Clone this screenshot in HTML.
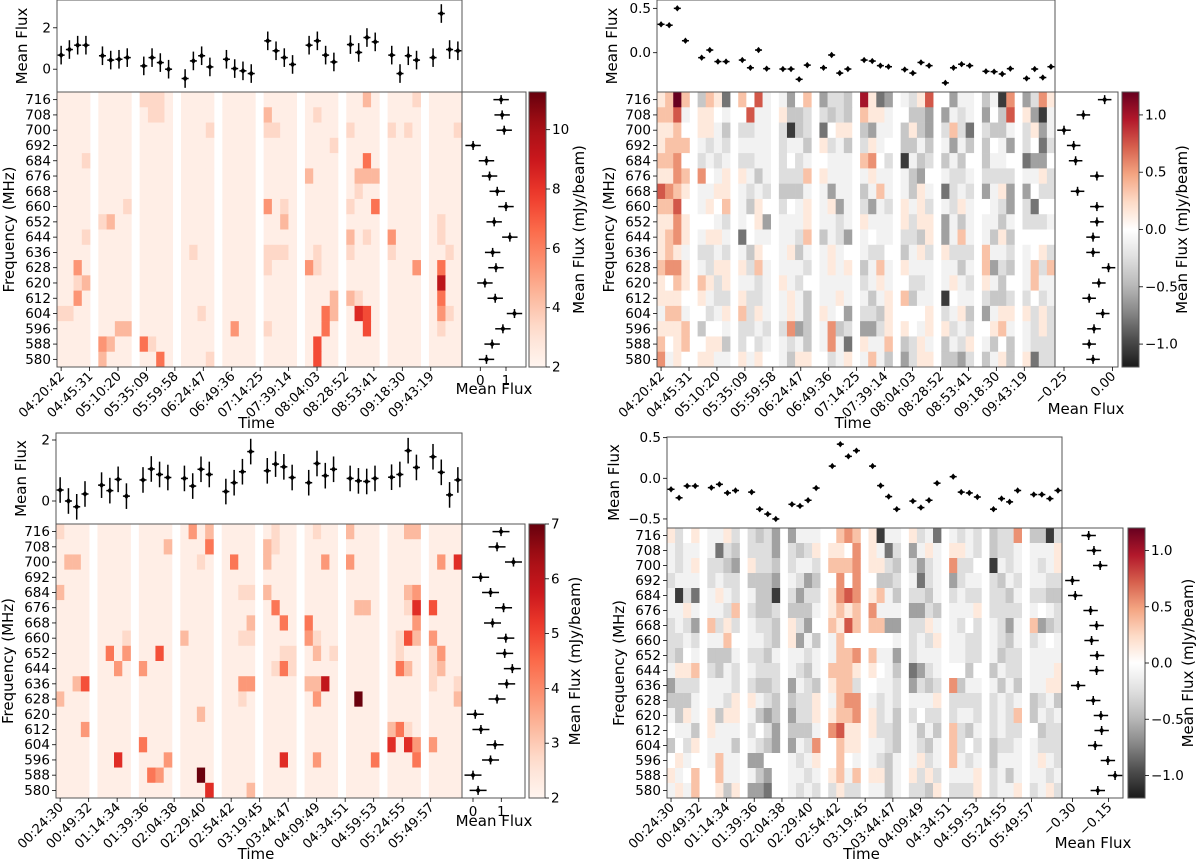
<!DOCTYPE html>
<html><head><meta charset="utf-8">
<style>
html,body{margin:0;padding:0;background:#fff;}
svg{display:block;font-family:"DejaVu Sans","Liberation Sans",sans-serif;}
</style></head>
<body>
<svg id="fig" width="1200" height="863" viewBox="0 0 1200 863" xmlns="http://www.w3.org/2000/svg"></svg>
<script>
// ---------- DATA ----------
const freqLabels = ["716","708","700","692","684","676","668","660","652","644","636","628","620","612","604","596","588","580"];
const timeLabelsA = ["04:20:42","04:45:31","05:10:20","05:35:09","05:59:58","06:24:47","06:49:36","07:14:25","07:39:14","08:04:03","08:28:52","08:53:41","09:18:30","09:43:19"];
const timeLabelsB = ["00:24:30","00:49:32","01:14:34","01:39:36","02:04:38","02:29:40","02:54:42","03:19:45","03:44:47","04:09:49","04:34:51","04:59:53","05:24:55","05:49:57"];

const p1Top = [0.68,0.95,1.16,1.16, 0.65,0.44,0.48,0.56, 0.16,0.56,0.32,0.0, -0.45,0.40,0.65,0.11, 0.48,0.03,-0.08,-0.21, 1.37,0.89,0.56,0.23, 1.16,1.37,0.68,0.35, 1.19,0.81,1.53,1.32, 0.68,-0.21,0.65,0.44, 0.56,2.69,0.95,0.89];
const p1Side = [0.81,0.85,0.93,-0.28,0.24,0.36,0.66,1.0,0.54,1.15,0.48,0.61,0.18,0.58,1.33,0.88,0.46,0.24];
const p1Rows = [
"0000 0000 1110 0000 0000 0000 0000 0020 0001 0000",
"0000 0000 0110 0000 0000 2000 0100 0000 0000 0000",
"0000 0000 0000 0001 0000 1100 0000 1000 1010 0001",
"0000 0000 0000 0000 0000 0000 0001 0000 0000 0000",
"0001 0000 0000 0000 0000 0000 0000 0040 0000 0000",
"0000 0000 0000 0000 0000 0000 2000 0222 0000 0000",
"0000 0000 0000 0000 0000 0000 0000 0100 0000 0000",
"0000 0001 0000 0000 0000 3010 0000 1004 0000 0000",
"0000 1200 0000 0000 0000 0020 0000 0000 0000 0100",
"0001 0000 0000 0000 0000 0000 0000 2010 3000 0100",
"0000 0000 0000 0100 0000 1110 0100 1000 1000 0010",
"0030 0000 0000 0000 0000 1000 3100 0000 0003 0400",
"0012 0000 0000 0000 0000 0000 0000 0000 0000 0700",
"0030 0000 0000 0000 0000 0000 0002 2100 0000 0400",
"1100 0000 0000 0010 0000 0000 0042 0650 0000 0310",
"0000 0022 0000 0000 0300 1000 0040 0050 0000 0100",
"0000 3200 4100 0000 0000 0000 0500 0000 0000 0000",
"0000 2000 0040 0001 0000 0000 0500 0000 0000 0000"];

const p2Top = [0.32,0.31,0.50,0.135, -0.056,0.03,-0.10,-0.10, -0.083,-0.17,0.03,-0.18, -0.184,-0.184,-0.30,-0.14, -0.17,-0.026,-0.23,-0.184, -0.083,-0.094,-0.146,-0.158, -0.19,-0.23,-0.11,-0.146, -0.34,-0.17,-0.13,-0.146, -0.21,-0.214,-0.24,-0.18, -0.29,-0.184,-0.28,-0.158];
const p2Side = [-0.04,-0.15,-0.25,-0.20,-0.19,-0.08,-0.18,-0.08,-0.08,-0.10,-0.10,-0.02,-0.07,-0.12,-0.05,-0.095,-0.12,-0.10];
const p2Rows = [
"1262 c21e 204a ad02 dbbc 51ed ab14 0daa caf3 db31",
"224a 110a 04aa 1ccb bcbc 211a 0ccd daba d0c4 1dfa",
"1120 11ac bbaa bfcb e011 cdaa c1cd b2be bcca b1da",
"1222 abab aaaa baac 1bac b1a0 ccac adac c0ad b0eb",
"2230 baba bbaa b0ba 0aaa 230b facb cac0 caa0 edd0",
"1132 30a1 1aca bbb2 1aaa a1aa acd0 abba bbbb aa1b",
"4321 aa11 abab ccca adaa ca2a ac1a ebab da1d d0bb",
"2240 a102 ac10 b0a1 a1da bdab 1a1b ab1a 0abd be00",
"1131 00ab a01d aaa1 aaba 1aaa 1b11 daca aaca bbba",
"1231 a11a e0aa aab2 cabd a0aa bbc1 da2a ac1c 0000",
"121a bbab ac10 a1ca a1a0 abb0 ca1b 1bbb 2aab a01b",
"2331 ab11 1b2a aaab a1a1 ca2a 1aaa aaca 2dbc a2b2",
"1021 21b1 aaba 1ab0 aaaa ba1a 0bba a1ab 1ac0 a2aa",
"1110 1abb 1bba a1ac aa1a aca1 2caa f0aa bccb b0ba",
"a22a 0ba1 2b1a a1ac 1a0d bbc1 0001 ba1c da11 1b1b",
"1112 c00a bbab b3dc a3cb ddb1 10a1 1bab 012a ab1b",
"2012 011c b0ba abac a3ae 1aa2 cb1a cab1 ac0c abbb",
"3a10 11aa 1a10 ac11 0ba1 a2ac db11 ccdb ca1c 1ebb"];

const p3Top = [0.36,0.0,-0.19,0.23, 0.52,0.34,0.71,0.16, 0.69,1.05,0.87,0.77, 0.74,0.49,1.04,0.87, 0.31,0.60,0.96,1.62, 0.99,1.21,1.12,0.77, 0.60,1.23,0.83,1.04, 0.74,0.66,0.64,0.74, 0.78,0.87,1.65,1.10, 1.45,0.94,0.20,0.69];
const p3Side = [0.99,0.85,1.43,0.27,0.62,1.08,0.69,1.16,1.12,1.39,1.19,0.85,0.08,0.28,0.78,0.62,0.0,0.18];
const p3Rows = [
"1000 0000 0000 0302 0000 0100 0100 2000 0022 0000",
"0000 0000 0002 0004 0000 2100 0000 0000 0000 0000",
"0220 0000 0000 0010 0400 2000 0030 3000 0000 0306",
"0000 0000 0000 0000 0000 0000 0000 0000 0000 0000",
"2000 0000 0000 0000 0011 2000 0000 0000 0023 0000",
"0000 0000 0000 0000 0000 0400 0000 0220 0016 5000",
"0000 0000 0000 0000 0002 0040 4000 0000 0003 0000",
"0000 0001 0000 2000 0011 0000 3100 0000 0152 3000",
"0000 0403 0050 0000 0000 0011 0201 0000 0100 1300",
"0000 0030 3000 0000 0000 0141 0000 0000 0420 1200",
"0025 0000 0000 0000 0033 0000 2270 0000 0000 1001",
"2000 0000 0000 0000 0010 0000 0300 0900 0000 0002",
"0000 0000 0000 0020 0000 0000 0000 0000 0000 0000",
"0003 0000 0000 0000 0000 0000 0000 0000 2410 0000",
"0000 0000 4000 0000 0000 0000 0000 0000 6063 3000",
"0000 0060 0003 0000 0000 0060 0300 0004 0004 0000",
"0000 0000 0430 0090 0000 0000 0000 0000 0000 0000",
"0000 0000 0000 0006 0002 0000 0000 0000 0000 0000"];

const p4Top = [-0.135,-0.24,-0.094,-0.094, -0.115,-0.074,-0.18,-0.15, -0.17,-0.38,-0.44,-0.50, -0.32,-0.34,-0.27,-0.12, 0.15,0.42,0.27,0.34, 0.15,-0.09,-0.225,-0.38, -0.28,-0.36,-0.27,-0.06, 0.02,-0.17,-0.18,-0.23, -0.38,-0.25,-0.29,-0.15, -0.20,-0.20,-0.25,-0.15];
const p4Side = [-0.233,-0.211,-0.185,-0.301,-0.289,-0.225,-0.200,-0.221,-0.198,-0.200,-0.277,-0.214,-0.182,-0.179,-0.206,-0.153,-0.123,-0.195];
const p4Rows = [
"1b01 aa1b bcbd daaa 0232 1faa 1bae abab cbb3 ccfb",
"abaa aebc bbbd bcb1 1103 1aeb da1a 11ab cbba aaa1",
"aba1 bbcd 1bbc baab 2223 11bc bdba 3bb0 faba aba1",
"baaa babb cccd abdc 0303 0ccb aeba dbaa bcab aabb",
"afbe a1ab accf bdbb 1343 12ac bbca babb bbca bbcc",
"aa1a aab2 bccb ccca 1212 3aaa ddbc aaa1 bbbb a0ab",
"babd 2b1b abbc 1bd0 2142 22dd bb1a ab0b abda 2dcb",
"bbab aa20 aabc 1dac a200 000a bab1 aabb abca ba0a",
"bc0a ccca bbca aaba a223 2aad baaa aabb acbb aaaa",
"a112 bcab abbb abca 2221 10ac edba 00c0 cabb aaa1",
"dbbb aaab bccb dabc 122b 0aab dbcb 3caa acac aa11",
"ccca aab1 1abc cbb1 a233 abab aaa1 bbbb baba cbac",
"ac1a 1c11 acdc dbb1 1223 1bac b0bb baab bab2 caba",
"0aac 1aaa b0bd ccca 3411 1bbc acac 2bca babb 0cbb",
"c0b1 aaac abcd dab3 0211 aabc abca 2b0b cbba abbb",
"01a0 a2aa dd00 aba1 020a abca a1ba 2aba caaa a1ab",
"1a02 02aa acd0 aaba 12a2 11ca 1b1b aaa1 baca aaba",
"a1a2 01c1 dde0 abab b1bb aaca bbc1 bbb1 baa1 ba1b"];

// ---------- HELPERS ----------
const NS = "http://www.w3.org/2000/svg";
const svg = document.getElementById("fig");
function mk(tag, attrs, parent) {
  const e = document.createElementNS(NS, tag);
  for (const k in attrs) e.setAttribute(k, attrs[k]);
  (parent || svg).appendChild(e);
  return e;
}
function hex(h){return [parseInt(h.slice(1,3),16),parseInt(h.slice(3,5),16),parseInt(h.slice(5,7),16)];}
function cmap(stops, t){
  t=Math.max(0,Math.min(1,t));
  const n=stops.length-1, p=t*n, i=Math.min(n-1,Math.floor(p)), f=p-i;
  const a=hex(stops[i]), b=hex(stops[i+1]);
  return "rgb("+a.map((v,j)=>Math.round(v+(b[j]-v)*f)).join(",")+")";
}
const REDS = ["#fff5f0","#fee0d2","#fcbba1","#fc9272","#fb6a4a","#ef3b2c","#cb181d","#a50f15","#67000d"];
const RDGY = ["#1a1a1a","#4d4d4d","#878787","#bababa","#e0e0e0","#ffffff","#fddbc7","#f4a582","#d6604d","#b2182b","#67001f"];
const DIV = {"0":0,"1":0.15,"2":0.35,"3":0.55,"4":0.75,"5":1.0,"6":1.2,"a":-0.1,"b":-0.25,"c":-0.4,"d":-0.6,"e":-0.8,"f":-1.05};

let gradId = 0;
function drawPanel(P) {
  const g = mk("g", {});
  
  
  const hL=P.hx0, hR=P.hx1, hT=P.hy0, hB=P.hy1;
  const cw=(hR-hL)/49, rh=(hB-hT)/18;
  const colX = c => hL + (Math.floor(c/4)*5 + c%4 + 0.5)*cw;
  const valOf = ch => P.diverging ? DIV[ch] : P.base + parseInt(ch,10)*P.step;
  const color = v => P.diverging ? cmap(RDGY,(v-P.vmin)/(P.vmax-P.vmin)) : cmap(REDS,(v-P.vmin)/(P.vmax-P.vmin));

  // heatmap cells
  const hm = mk("g", {}, g);
  
  
  P.rows.forEach((s, r) => {
    const chars = s.replace(/ /g,"");
    for (let c=0;c<chars.length;c++){
      const v = valOf(chars[c]);
      const cell = mk("rect",{x:(colX(c)-cw/2).toFixed(2),y:(hT+r*rh).toFixed(2),width:(cw+0.3).toFixed(2),height:(rh+0.3).toFixed(2),fill:color(v)},hm);
      
      
    }
  });
  // frames
  const f1 = mk("rect",{x:hL,y:hT,width:hR-hL,height:hB-hT,fill:"none",stroke:"#555","stroke-width":1},g);
  
  
  const f2 = mk("rect",{x:hL,y:P.ty0,width:hR-hL,height:hT-P.ty0,fill:"none",stroke:"#555","stroke-width":1},g);
  
  
  const f3 = mk("rect",{x:hR,y:hT,width:P.sx1-hR,height:hB-hT,fill:"none",stroke:"#555","stroke-width":1},g);
  
  

  // frequency ticks
  freqLabels.forEach((lab, r) => {
    const y = hT + (r+0.5)*rh;
    const tk = mk("line",{x1:hL-4,x2:hL,y1:y,y2:y,stroke:"#000","stroke-width":0.8},g);
    
    
    const t = mk("text",{x:hL-6,y:y+4.5,"font-size":13.5,"text-anchor":"end"},g);
    t.textContent = lab;
    
    
  });
  const fy = mk("text",{x:0,y:0,"font-size":15,"text-anchor":"middle",transform:`translate(${hL-43},${(hT+hB)/2}) rotate(-90)`},g);
  fy.textContent = "Frequency (MHz)";
  
  

  // time ticks
  P.times.forEach((lab, i) => {
    const x = hL + (0.5 + i*3.44)*cw;
    const tk = mk("line",{x1:x,x2:x,y1:hB,y2:hB+4,stroke:"#000","stroke-width":0.8},g);
    
    
    const t = mk("text",{x:0,y:0,"font-size":13,"text-anchor":"end",transform:`translate(${x+4},${hB+10}) rotate(-45)`},g);
    t.textContent = lab;
    
    
  });
  const tx = mk("text",{x:(hL+hR)/2-3,y:P.timeY,"font-size":15,"text-anchor":"middle"},g);
  tx.textContent = "Time";
  
  

  // top mean flux
  const ty = v => P.tZero - v*P.tK;
  P.tTicks.forEach(v => {
    const y = ty(v);
    const tk = mk("line",{x1:hL-4,x2:hL,y1:y,y2:y,stroke:"#000","stroke-width":0.8},g);
    
    
    const t = mk("text",{x:hL-6,y:y+4.5,"font-size":13.5,"text-anchor":"end"},g);
    t.textContent = P.tFmt(v);
    
    
  });
  const mt = mk("text",{x:0,y:0,"font-size":15,"text-anchor":"middle",transform:`translate(${hL-P.tTitleOff},${(P.ty0+hT)/2}) rotate(-90)`},g);
  mt.textContent = "Mean Flux";
  
  
  P.top.forEach((v, i) => {
    const x = colX(i), y = ty(v);
    const pt = mk("g",{},g);
    
    
    mk("line",{x1:x,x2:x,y1:y-P.tErr*P.tK,y2:y+P.tErr*P.tK,stroke:"#000","stroke-width":1.5},pt);
    mk("line",{x1:x-3.5,x2:x+3.5,y1:y,y2:y,stroke:"#000","stroke-width":1.5},pt);
    mk("path",{d:`M${x},${y-3.2}L${x+2.6},${y}L${x},${y+3.2}L${x-2.6},${y}Z`,fill:"#000"},pt);
  });

  // side mean flux
  const sx = v => P.sZero + v*P.sK;
  P.sTicks.forEach(v => {
    const x = sx(v);
    const tk = mk("line",{x1:x,x2:x,y1:hB,y2:hB+4,stroke:"#000","stroke-width":0.8},g);
    
    
    const t = P.sRot
      ? mk("text",{x:0,y:0,"font-size":13,"text-anchor":"end",transform:`translate(${x+4},${hB+10}) rotate(-45)`},g)
      : mk("text",{x:x,y:hB+18,"font-size":13.5,"text-anchor":"middle"},g);
    t.textContent = P.sFmt(v);
    
    
  });
  const st = mk("text",{x:P.sTitleX,y:P.sTitleY,"font-size":15,"text-anchor":"middle"},g);
  st.textContent = "Mean Flux";
  
  
  P.side.forEach((v, r) => {
    const x = sx(v), y = hT + (r+0.5)*rh;
    const pt = mk("g",{},g);
    
    
    mk("line",{x1:x-P.sErr*P.sK,x2:x+P.sErr*P.sK,y1:y,y2:y,stroke:"#000","stroke-width":1.5},pt);
    mk("line",{x1:x,x2:x,y1:y-4.5,y2:y+4.5,stroke:"#000","stroke-width":1.5},pt);
    mk("path",{d:`M${x},${y-3.2}L${x+2.6},${y}L${x},${y+3.2}L${x-2.6},${y}Z`,fill:"#000"},pt);
  });

  // colorbar
  const id = "cg"+(gradId++);
  const defs = mk("defs",{},g);
  const lg = mk("linearGradient",{id:id,x1:0,y1:1,x2:0,y2:0},defs);
  for (let i=0;i<=20;i++){
    const t=i/20;
    mk("stop",{offset:t,"stop-color":P.diverging?cmap(RDGY,t):cmap(REDS,t)},lg);
  }
  const cb = mk("rect",{x:P.cx0,y:hT,width:P.cx1-P.cx0,height:hB-hT,fill:`url(#${id})`,stroke:"#555","stroke-width":1},g);
  
  
  P.cTicks.forEach(v => {
    const y = hB - (v-P.vmin)/(P.vmax-P.vmin)*(hB-hT);
    const tk = mk("line",{x1:P.cx1,x2:P.cx1+4,y1:y,y2:y,stroke:"#000","stroke-width":0.8},g);
    
    
    const t = mk("text",{x:P.cx1+6,y:y+4.5,"font-size":13.5},g);
    t.textContent = P.cFmt(v);
    
    
  });
  const ct = mk("text",{x:0,y:0,"font-size":15,"text-anchor":"middle",transform:`translate(${P.cTitleX},${(hT+hB)/2}) rotate(-90)`},g);
  ct.textContent = "Mean Flux (mJy/beam)";
  
  
}

const fmt1 = v => (v<0?"\u2212":"")+Math.abs(v).toFixed(1);
const fmt2 = v => (v<0?"\u2212":"")+Math.abs(v).toFixed(2);
const fmt0 = v => (v<0?"\u2212":"")+Math.abs(v).toFixed(0);

drawPanel({name:"panel-top-left", rows:p1Rows, top:p1Top, side:p1Side, times:timeLabelsA,
  hx0:57,hx1:462,hy0:92,hy1:367,ty0:0,sx1:526,cx0:529,cx1:546,
  diverging:false,base:2.4,step:1.0,vmin:2,vmax:11.27,
  tZero:69.2,tK:20.7,tTicks:[0,2],tFmt:fmt0,tErr:0.45,tTitleOff:30,
  sZero:480.3,sK:25.7,sTicks:[0,1],sFmt:fmt0,sErr:0.3,sRot:false,sTitleX:494,sTitleY:394,
  cTicks:[2,4,6,8,10],cFmt:fmt0,cTitleX:584,timeY:428});

drawPanel({name:"panel-top-right", rows:p2Rows, top:p2Top, side:p2Side, times:timeLabelsA,
  hx0:657,hx1:1055,hy0:92,hy1:367,ty0:0,sx1:1118,cx0:1122,cx1:1139,
  diverging:true,vmin:-1.2,vmax:1.2,
  tZero:52.7,tK:88.7,tTicks:[0.5,0.0],tFmt:fmt1,tErr:0.025,tTitleOff:40,
  sZero:1112.4,sK:193.6,sTicks:[-0.25,0.0],sFmt:fmt2,sErr:0.035,sRot:true,sTitleX:1086,sTitleY:414,
  cTicks:[-1.0,-0.5,0.0,0.5,1.0],cFmt:fmt1,cTitleX:1187,timeY:428});

drawPanel({name:"panel-bottom-left", rows:p3Rows, top:p3Top, side:p3Side, times:timeLabelsB,
  hx0:56,hx1:462,hy0:524,hy1:798,ty0:433,sx1:525,cx0:529,cx1:545,
  diverging:false,base:2.2,step:0.53,vmin:2,vmax:7,
  tZero:501,tK:30.5,tTicks:[0,2],tFmt:fmt0,tErr:0.42,tTitleOff:30,
  sZero:473,sK:28.3,sTicks:[0,1],sFmt:fmt0,sErr:0.3,sRot:false,sTitleX:494,sTitleY:826,
  cTicks:[2,3,4,5,6,7],cFmt:fmt0,cTitleX:580,timeY:859});

drawPanel({name:"panel-bottom-right", rows:p4Rows, top:p4Top, side:p4Side, times:timeLabelsB,
  hx0:667,hx1:1062,hy0:528,hy1:798,ty0:437,sx1:1123,cx0:1128,cx1:1145,
  diverging:true,vmin:-1.2,vmax:1.2,
  tZero:478.3,tK:81.3,tTicks:[0.5,0.0,-0.5],tFmt:fmt1,tErr:0.02,tTitleOff:48,
  sZero:1144.6,sK:240,sTicks:[-0.30,-0.15],sFmt:fmt2,sErr:0.03,sRot:true,sTitleX:1093,sTitleY:848,
  cTicks:[-1.0,-0.5,0.0,0.5,1.0],cFmt:fmt1,cTitleX:1193,timeY:859});
</script>
</body></html>
